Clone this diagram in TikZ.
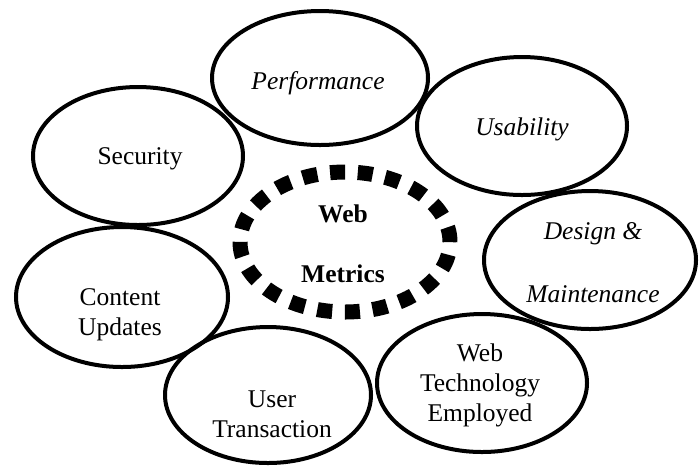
\documentclass[tikz,border=0pt]{standalone}
\usepackage{fontspec}
\setmainfont{Liberation Serif}
\usetikzlibrary{shapes.geometric}
\begin{document}
\begin{tikzpicture}[x=0.5pt,y=-0.5pt,
  oval/.style={ellipse,draw,line width=2pt,inner sep=0pt},
  dashoval/.style={ellipse,draw,line width=7.5pt,inner sep=0pt,dash pattern=on 7.5pt off 6.38pt},
  lbl/.style={inner sep=0pt,font=\fontsize{12.75}{15}\selectfont,align=center},
  ilbl/.style={lbl,font=\fontsize{12.75}{15}\selectfont\itshape},
  blbl/.style={lbl,font=\fontsize{12.75}{15}\selectfont\bfseries}]
\useasboundingbox (0,0) rectangle (699,468);
\node[oval,minimum width=108pt,minimum height=67pt] (perf) at (320,78) {};
\node[oval,minimum width=105pt,minimum height=69pt] (usab) at (522,126) {};
\node[oval,minimum width=105pt,minimum height=69pt] (secu) at (138,156) {};
\node[oval,minimum width=106pt,minimum height=70pt] (cont) at (122,297) {};
\node[oval,minimum width=106pt,minimum height=69pt] (desi) at (590,260) {};
\node[oval,minimum width=105pt,minimum height=69pt] (tech) at (482,383) {};
\node[oval,minimum width=103pt,minimum height=68pt] (user) at (268,395) {};
\node[dashoval,minimum width=105pt,minimum height=70pt] (metr) at (345,242) {};
\node[ilbl] (tperf) at (318,83) {Performance};
\node[ilbl] (tusab) at (522,129) {Usability};
\node[lbl] (tsecu) at (140,159) {Security};
\node[lbl] (tcont) at (120,315) {Content\\Updates};
\node[ilbl] (tdes1) at (593,234) {Design \&};
\node[ilbl] (tdes2) at (593,294) {Maintenance};
\node[lbl] (ttech) at (480,385) {Web\\Technology\\Employed};
\node[lbl] (tuser) at (272,414) {User\\Transaction};
\node[blbl] (tmet1) at (343,214) {Web};
\node[blbl] (tmet2) at (343,274) {Metrics};
\end{tikzpicture}
\end{document}
